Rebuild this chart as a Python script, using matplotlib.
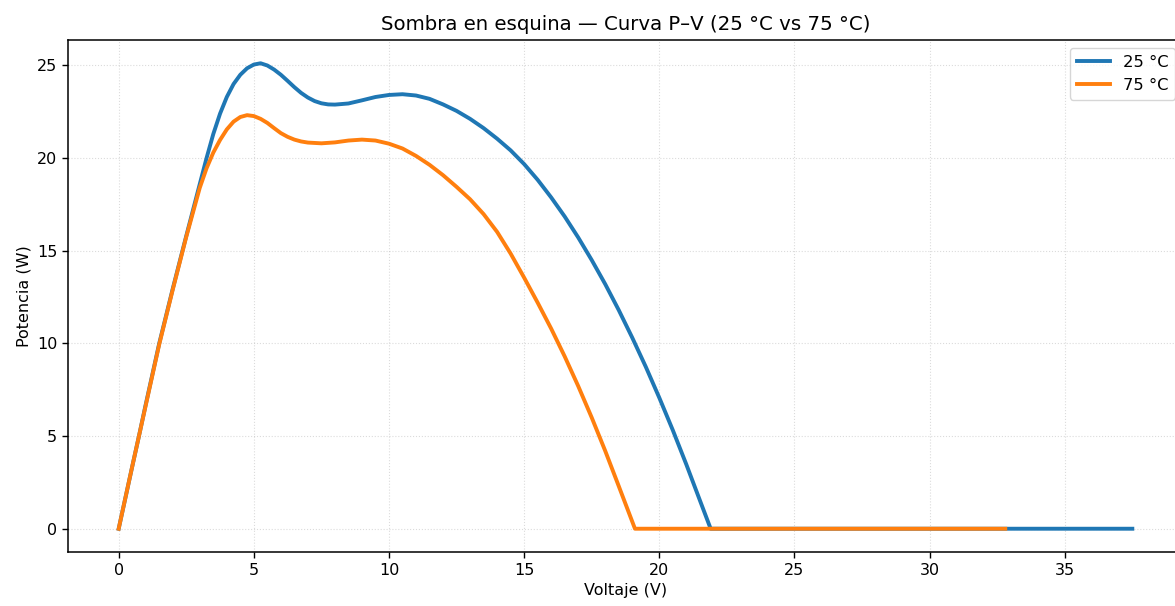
import matplotlib
matplotlib.use("Agg")
import matplotlib.pyplot as plt

v25 = [0, 0.5, 0.75, 1.0, 1.5, 2.0, 2.5, 3.0, 3.25, 3.5, 3.75, 4.0, 4.25, 4.5, 4.75, 5.0, 5.25,
       5.5, 5.75, 6.0, 6.25, 6.5, 6.75, 7.0, 7.25, 7.5, 7.75, 8.0, 8.5, 9.0, 9.5, 10.0, 10.5, 11.0,
       11.5, 12.0, 12.5, 13.0, 13.5, 14.0, 14.5, 15.0, 15.5, 16.0, 16.5, 17.0, 17.5, 18.0,
       18.5, 19.0, 19.5, 20.0, 20.5, 21.0, 21.5, 21.9, 37.5]
p25 = [0, 3.35, 5.0, 6.7, 10.0, 12.95, 15.8, 18.6, 20.0, 21.3, 22.4, 23.3, 24.0, 24.5, 24.85, 25.05, 25.12,
       25.0, 24.78, 24.5, 24.17, 23.83, 23.52, 23.27, 23.08, 22.96, 22.9, 22.89, 22.95, 23.12, 23.3, 23.41, 23.45, 23.38,
       23.2, 22.9, 22.55, 22.12, 21.62, 21.05, 20.42, 19.68, 18.83, 17.88, 16.85, 15.72, 14.5, 13.2,
       11.8, 10.31, 8.74, 7.07, 5.32, 3.47, 1.54, 0, 0]

v75 = [0, 0.5, 0.75, 1.0, 1.5, 2.0, 2.5, 3.0, 3.25, 3.5, 3.75, 4.0, 4.25, 4.5, 4.75, 5.0, 5.25,
       5.5, 5.75, 6.0, 6.25, 6.5, 6.75, 7.0, 7.5, 8.0, 8.5, 9.0, 9.5, 10.0, 10.5, 11.0, 11.5,
       12.0, 12.5, 13.0, 13.5, 14.0, 14.5, 15.0, 15.5, 16.0, 16.5, 17.0, 17.5, 18.0, 18.5,
       19.1, 32.8]
p75 = [0, 3.35, 5.0, 6.65, 9.95, 12.9, 15.75, 18.4, 19.45, 20.3, 20.98, 21.55, 21.97, 22.22, 22.32, 22.27, 22.12,
       21.9, 21.62, 21.35, 21.15, 21.0, 20.9, 20.84, 20.8, 20.85, 20.95, 21.0, 20.95, 20.78, 20.52, 20.12, 19.64,
       19.08, 18.45, 17.78, 16.98, 16.02, 14.85, 13.55, 12.2, 10.8, 9.3, 7.7, 6.0, 4.2, 2.3,
       0, 0]

labels = ["25 °C", "75 °C"]
title = "Sombra en esquina — Curva P–V (25 °C vs 75 °C)"

W, H = 1175, 606
fig = plt.figure(figsize=(W / 100, H / 100), dpi=100)
left, right, top, bottom = 68, 1183, 40, 552
ax = fig.add_axes([left / W, 1 - bottom / H, (right - left) / W, (bottom - top) / H])

ax.plot(v25, p25, color="#1f77b4", lw=2.8, label=labels[0])
ax.plot(v75, p75, color="#ff7f0e", lw=2.8, label=labels[1])

ax.set_title(title, fontsize=14.2, pad=7)
ax.set_xlabel("Voltaje (V)", fontsize=11.5)
ax.set_ylabel("Potencia (W)", fontsize=11.5)
ax.tick_params(labelsize=11.5, length=4.2, width=1)
for s in ax.spines.values():
    s.set_linewidth(1.1)
ax.grid(True, linestyle=":", alpha=0.45)
ax.legend(loc="upper right", fontsize=11.8)

fig.savefig("out.png", dpi=100)
